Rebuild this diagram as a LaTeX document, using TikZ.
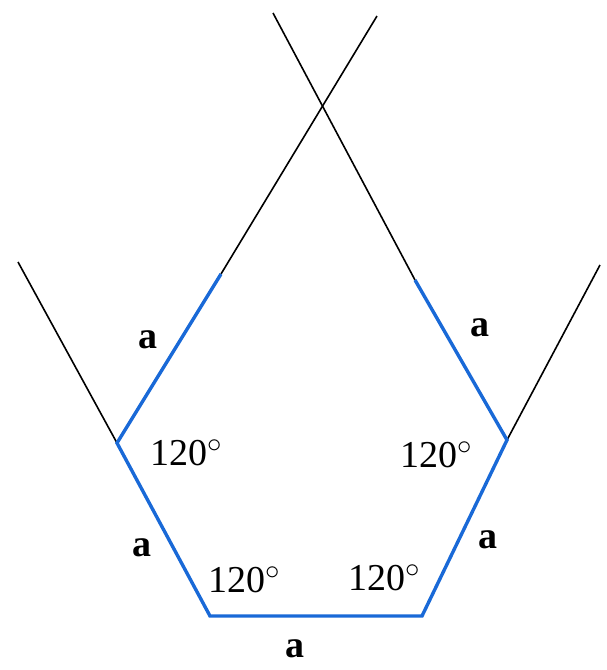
\documentclass[tikz,border=0pt]{standalone}
\usepackage{fontspec}
\setmainfont{Liberation Serif}
\usepackage{xcolor}
\usetikzlibrary{positioning}
\definecolor{sideblue}{RGB}{25,105,215}

\begin{document}
\begin{tikzpicture}[
  x=0.5pt, y=-0.5pt,
  every node/.style={inner sep=0pt, font=\fontsize{19}{22}\selectfont},
  side/.style={sideblue, line width=1.7pt, line join=miter},
  ray/.style={black, line width=0.8pt},
  len/.style={font=\fontsize{19}{22}\selectfont\bfseries},
  ang/.style={}
]
\useasboundingbox (0,0) rectangle (606,670);
\coordinate (L)  at (117,443);
\coordinate (BL) at (210,616);
\coordinate (BR) at (422,616);
\coordinate (R)  at (507,440);
\coordinate (LT) at (221,274);
\coordinate (RT) at (415,280);
\coordinate (LE) at (377,16);
\coordinate (RE) at (273,13);
\coordinate (LO) at (18,262);
\coordinate (RO) at (600,265);
% rays
\draw[ray] (LT) -- (LE);
\draw[ray] (RT) -- (RE);
\draw[ray] (L) -- (LO);
\draw[ray] (R) -- (RO);
% sides
\draw[side] (LT) -- (L) -- (BL) -- (BR) -- (R) -- (RT);
% labels
\node[len] (a1) at (148,340) {a};
\node[len] (a2) at (142,548) {a};
\node[len] (a3) at (295,649) {a};
\node[len] (a4) at (488,540) {a};
\node[len] (a5) at (480,328) {a};
\node[ang] (g1) at (187,453) {120$^\circ$};
\node[ang] (g2) at (245,580) {120$^\circ$};
\node[ang] (g3) at (385,578) {120$^\circ$};
\node[ang] (g4) at (437,455) {120$^\circ$};
\end{tikzpicture}
\end{document}
